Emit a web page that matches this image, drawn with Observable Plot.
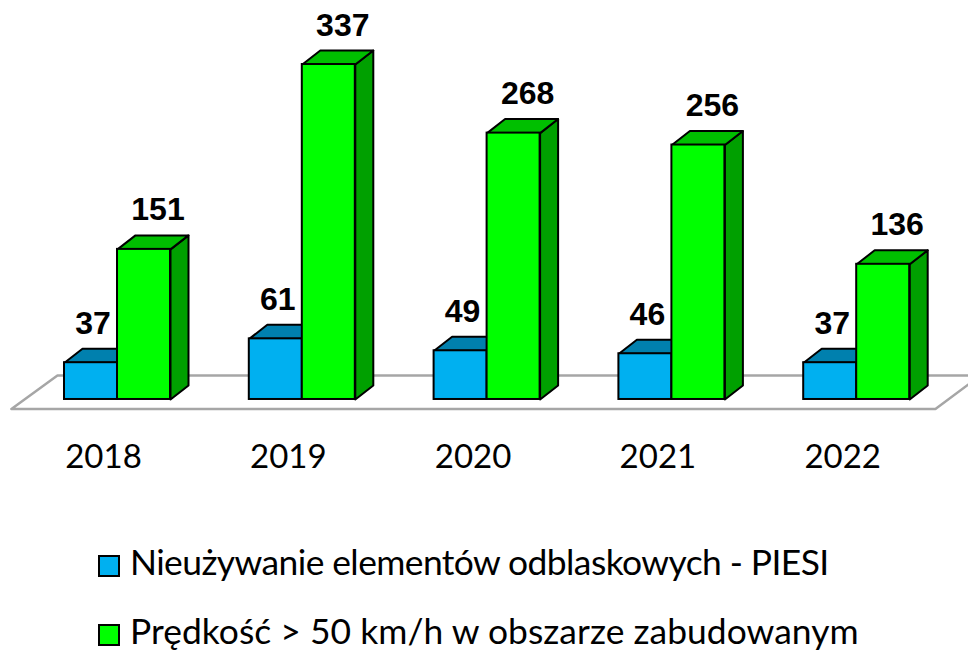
<!DOCTYPE html>
<html><head><meta charset="utf-8">
<script src="https://cdn.jsdelivr.net/npm/d3@7"></script>
<script src="https://cdn.jsdelivr.net/npm/@observablehq/plot@0.6"></script>
<style>
html,body{margin:0;padding:0;background:#fff;overflow:hidden}
#legend{font-family:Lato,sans-serif;font-size:35.4px;color:#000;position:absolute;left:0;top:0;width:968px}
.row{position:absolute;left:98px;display:flex;align-items:center;height:34px;line-height:34px;white-space:nowrap}
.sw{width:18px;height:18px;border:2px solid #000;margin-right:10px;flex:none}
.lab{position:relative;top:-4px}
svg{display:block}
</style></head><body>
<div id="chart"></div>
<div id="legend"></div>
<script>
const years = [2018, 2019, 2020, 2021, 2022];
const pieszy = [37, 61, 49, 46, 37];
const predkosc = [151, 337, 268, 256, 136];
const seriesNames = ["Nieużywanie elementów odblaskowych - PIESI", "Prędkość > 50 km/h w obszarze zabudowanym"];
const blue = {front: "#00B0F0", top: "#0080AE"};
const green = {front: "#00FF00", top: "#00BF00", side: "#00A000"};

// Widths and depth in data units (years, counts)
const barW = 0.2868, depthX = 0.0974, depthY = 14.1;
const floorX = [2017.426, 2022.426, 2022.67, 2017.675, 2017.426];
const floorY = [-9.5, -9.5, 24.1, 24.1, -9.5];

const blueRows = years.map((year, i) => ({year, v: pieszy[i], x1: year - barW, x2: year}));
const greenRows = years.map((year, i) => ({year, v: predkosc[i], x1: year, x2: year + barW}));

const poly = (rows, corners) => rows.flatMap(r => corners(r).map(([x, y]) => ({id: r.year, x, y})));
const topFace = r => [[r.x1, r.v], [r.x2, r.v], [r.x2 + depthX, r.v + depthY], [r.x1 + depthX, r.v + depthY], [r.x1, r.v]];
const sideFace = r => [[r.x2, 0], [r.x2 + depthX, depthY], [r.x2 + depthX, r.v + depthY], [r.x2, r.v], [r.x2, 0]];
const floor = floorX.map((x, i) => ({x, y: floorY[i]}));

const faceOpts = fill => ({x: "x", y: "y", z: "id", fill, stroke: "#000", strokeWidth: 2, strokeLinejoin: "round"});
const frontOpts = fill => ({x1: "x1", x2: "x2", y1: 0, y2: "v", fill, stroke: "#000", strokeWidth: 2});
const labelOpts = dx => ({
  x: d => (d.x1 + d.x2) / 2, y: "v", text: d => String(d.v), dx, dy: -29,
  lineAnchor: "bottom", fontFamily: "Liberation Sans, Arial, sans-serif",
  fontWeight: "bold", fontSize: 32, fill: "#000"
});

const plot = Plot.plot({
  width: 968, height: 500,
  marginTop: 0, marginRight: 0, marginBottom: 55, marginLeft: 0,
  x: {domain: [2018 - 117 / 184.8, 2018 - 117 / 184.8 + 968 / 184.8], range: [0, 968]},
  y: {domain: [-46.3, 401.4], range: [445, 0], axis: null},
  style: {background: "#fff"},
  marks: [
    Plot.line(floor, {x: "x", y: "y", stroke: "#a6a6a6", strokeWidth: 2.5, strokeLinejoin: "miter"}),
    Plot.line(poly(blueRows, topFace), faceOpts(blue.top)),
    Plot.rect(blueRows, frontOpts(blue.front)),
    Plot.line(poly(greenRows, sideFace), faceOpts(green.side)),
    Plot.line(poly(greenRows, topFace), faceOpts(green.top)),
    Plot.rect(greenRows, frontOpts(green.front)),
    Plot.text(blueRows, labelOpts(2)),
    Plot.text(greenRows, labelOpts(14)),
    Plot.axisX({
      ticks: years, tickFormat: d => String(d), tickSize: 0, tickPadding: 0,
      lineAnchor: "top", dx: -14, dy: -1, fontFamily: "Lato, sans-serif", fontSize: 33, fill: "#000", label: null
    })
  ]
});
document.getElementById("chart").appendChild(plot);

const legend = document.getElementById("legend");
[blue.front, green.front].forEach((c, i) => {
  const row = document.createElement("div");
  row.className = "row";
  row.style.top = (549 + i * 69) + "px";
  row.style.letterSpacing = i === 0 ? "-0.57px" : "0.05px";
  const sw = document.createElement("span");
  sw.className = "sw";
  sw.style.background = c;
  row.appendChild(sw);
  const lab = document.createElement("span");
  lab.className = "lab";
  lab.textContent = seriesNames[i];
  row.appendChild(lab);
  legend.appendChild(row);
});
</script>
</body></html>
